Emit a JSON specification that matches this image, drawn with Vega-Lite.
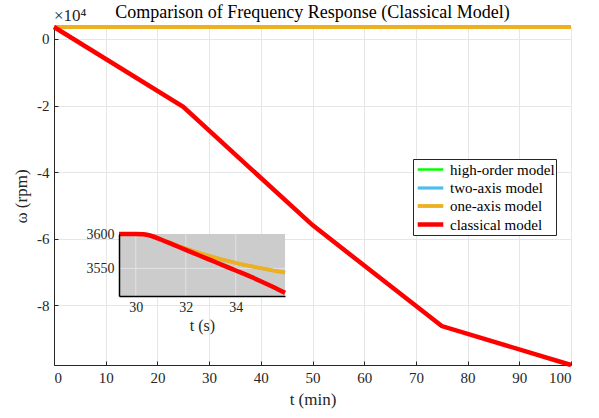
{
  "$schema": "https://vega.github.io/schema/vega-lite/v6.json",
  "width": 517,
  "height": 338,
  "autosize": {"type": "none"},
  "padding": {"left": 54, "top": 27, "right": 28, "bottom": 53},
  "background": "white",
  "title": {"text": "Comparison of Frequency Response (Classical Model)", "font": "Liberation Serif, serif", "fontSize": 18, "fontWeight": "normal", "color": "#000000", "baseline": "alphabetic", "offset": -29, "anchor": "middle"},
  "datasets": {
    "main": [
      {"t": 0, "w": 3600, "model": "high-order model"},
      {"t": 100, "w": 3590, "model": "high-order model"},
      {"t": 0, "w": 3600, "model": "two-axis model"},
      {"t": 100, "w": 3590, "model": "two-axis model"},
      {"t": 0, "w": 3600, "model": "one-axis model"},
      {"t": 100, "w": 3590, "model": "one-axis model"},
      {"t": 0, "w": 3600, "model": "classical model"},
      {"t": 25, "w": -20400, "model": "classical model"},
      {"t": 50, "w": -55900, "model": "classical model"},
      {"t": 75, "w": -86200, "model": "classical model"},
      {"t": 100, "w": -97900, "model": "classical model"}
    ],
    "inset": [
      {"s": 29.33, "w": 3600, "model": "high-order model"},
      {"s": 30, "w": 3600, "model": "high-order model"},
      {"s": 30.3, "w": 3599.5, "model": "high-order model"},
      {"s": 30.6, "w": 3597.5, "model": "high-order model"},
      {"s": 31, "w": 3592.5, "model": "high-order model"},
      {"s": 31.5, "w": 3585.5, "model": "high-order model"},
      {"s": 32, "w": 3579, "model": "high-order model"},
      {"s": 32.5, "w": 3573, "model": "high-order model"},
      {"s": 33, "w": 3567.5, "model": "high-order model"},
      {"s": 33.5, "w": 3562.5, "model": "high-order model"},
      {"s": 34, "w": 3558, "model": "high-order model"},
      {"s": 34.5, "w": 3554, "model": "high-order model"},
      {"s": 35, "w": 3550.5, "model": "high-order model"},
      {"s": 35.5, "w": 3547, "model": "high-order model"},
      {"s": 35.97, "w": 3544, "model": "high-order model"},
      {"s": 29.33, "w": 3600, "model": "two-axis model"},
      {"s": 30, "w": 3600, "model": "two-axis model"},
      {"s": 30.3, "w": 3599.5, "model": "two-axis model"},
      {"s": 30.6, "w": 3597.5, "model": "two-axis model"},
      {"s": 31, "w": 3592.5, "model": "two-axis model"},
      {"s": 31.5, "w": 3585.5, "model": "two-axis model"},
      {"s": 32, "w": 3579, "model": "two-axis model"},
      {"s": 32.5, "w": 3573, "model": "two-axis model"},
      {"s": 33, "w": 3567.5, "model": "two-axis model"},
      {"s": 33.5, "w": 3562.5, "model": "two-axis model"},
      {"s": 34, "w": 3558, "model": "two-axis model"},
      {"s": 34.5, "w": 3554, "model": "two-axis model"},
      {"s": 35, "w": 3550.5, "model": "two-axis model"},
      {"s": 35.5, "w": 3547, "model": "two-axis model"},
      {"s": 35.97, "w": 3544, "model": "two-axis model"},
      {"s": 29.33, "w": 3600, "model": "one-axis model"},
      {"s": 30, "w": 3600, "model": "one-axis model"},
      {"s": 30.3, "w": 3599.5, "model": "one-axis model"},
      {"s": 30.6, "w": 3597.5, "model": "one-axis model"},
      {"s": 31, "w": 3592.5, "model": "one-axis model"},
      {"s": 31.5, "w": 3585.5, "model": "one-axis model"},
      {"s": 32, "w": 3579, "model": "one-axis model"},
      {"s": 32.5, "w": 3573, "model": "one-axis model"},
      {"s": 33, "w": 3567.5, "model": "one-axis model"},
      {"s": 33.5, "w": 3562.5, "model": "one-axis model"},
      {"s": 34, "w": 3558, "model": "one-axis model"},
      {"s": 34.5, "w": 3554, "model": "one-axis model"},
      {"s": 35, "w": 3550.5, "model": "one-axis model"},
      {"s": 35.5, "w": 3547, "model": "one-axis model"},
      {"s": 35.97, "w": 3544, "model": "one-axis model"},
      {"s": 29.33, "w": 3600, "model": "classical model"},
      {"s": 30, "w": 3600, "model": "classical model"},
      {"s": 30.3, "w": 3599.5, "model": "classical model"},
      {"s": 30.6, "w": 3597.5, "model": "classical model"},
      {"s": 31, "w": 3592, "model": "classical model"},
      {"s": 31.5, "w": 3584.5, "model": "classical model"},
      {"s": 32, "w": 3577, "model": "classical model"},
      {"s": 32.5, "w": 3569.5, "model": "classical model"},
      {"s": 33, "w": 3562, "model": "classical model"},
      {"s": 33.5, "w": 3554.5, "model": "classical model"},
      {"s": 34, "w": 3547, "model": "classical model"},
      {"s": 34.5, "w": 3539.5, "model": "classical model"},
      {"s": 35, "w": 3531.5, "model": "classical model"},
      {"s": 35.5, "w": 3523, "model": "classical model"},
      {"s": 35.97, "w": 3514.5, "model": "classical model"}
    ],
    "grid": [{"g": 30}, {"g": 32}, {"g": 34}]
  },
  "config": {
    "view": {"stroke": null},
    "axis": {
      "labelFont": "Liberation Serif, serif", "titleFont": "Liberation Serif, serif",
      "labelColor": "#262626", "titleColor": "#262626", "titleFontWeight": "normal",
      "domainColor": "#262626", "tickColor": "#262626", "gridColor": "#e6e6e6",
      "labelFontSize": 15, "titleFontSize": 17, "domainWidth": 1, "tickWidth": 1
    }
  },
  "resolve": {"scale": {"x": "independent", "y": "independent"}},
  "layer": [
    {
      "layer": [
        {
          "data": {"name": "main"},
          "transform": [{"filter": "datum.model === 'high-order model'"}],
          "mark": {"type": "line"},
          "encoding": {
            "x": {"field": "t", "type": "quantitative",
              "scale": {"domain": [0, 100], "nice": false, "zero": false},
              "axis": {"values": [0, 10, 20, 30, 40, 50, 60, 70, 80, 90, 100], "title": "t (min)", "grid": true, "tickSize": -4, "labelPadding": 9, "titlePadding": 6}},
            "y": {"field": "w", "type": "quantitative",
              "scale": {"domain": [-97900, 3600], "nice": false, "zero": false},
              "axis": {"values": [-80000, -60000, -40000, -20000, 0], "labelExpr": "datum.value / 10000", "title": "ω (rpm)", "grid": true, "tickSize": -4, "labelPadding": 9, "titleX": -24}},
            "color": {"field": "model", "type": "nominal",
              "scale": {"domain": ["high-order model", "two-axis model", "one-axis model", "classical model"], "range": ["#00ff00", "#4dbeee", "#edb120", "#ff0000"]},
              "legend": {"title": null, "orient": "none", "legendX": 359, "legendY": 132, "fillColor": "white", "strokeColor": "#262626", "padding": 1, "symbolType": "M-1.6,0H1.6", "symbolSize": 256, "symbolOffset": 6, "labelFont": "Liberation Serif, serif", "labelFontSize": 15, "labelColor": "#000000", "labelOffset": 9, "rowPadding": 0}},
            "strokeWidth": {"field": "model", "type": "nominal",
              "scale": {"domain": ["high-order model", "two-axis model", "one-axis model", "classical model"], "range": [2.5, 4.5, 2.5, 2.5]},
              "legend": {"title": null, "orient": "none", "legendX": 359, "legendY": 132, "fillColor": "white", "strokeColor": "#262626", "padding": 1, "symbolType": "M-1.6,0H1.6", "symbolSize": 256, "symbolOffset": 6, "labelFont": "Liberation Serif, serif", "labelFontSize": 15, "labelColor": "#000000", "labelOffset": 9, "rowPadding": 0}}
          }
        },
        {
          "data": {"name": "main"},
          "transform": [{"filter": "datum.model === 'two-axis model'"}],
          "mark": {"type": "line"},
          "encoding": {
            "x": {"field": "t", "type": "quantitative"},
            "y": {"field": "w", "type": "quantitative"},
            "color": {"field": "model", "type": "nominal"},
            "strokeWidth": {"field": "model", "type": "nominal"}
          }
        },
        {
          "data": {"name": "main"},
          "transform": [{"filter": "datum.model === 'one-axis model'"}],
          "mark": {"type": "line"},
          "encoding": {
            "x": {"field": "t", "type": "quantitative"},
            "y": {"field": "w", "type": "quantitative"},
            "color": {"field": "model", "type": "nominal"},
            "strokeWidth": {"field": "model", "type": "nominal"}
          }
        },
        {
          "data": {"name": "main"},
          "transform": [{"filter": "datum.model === 'classical model'"}],
          "mark": {"type": "line"},
          "encoding": {
            "x": {"field": "t", "type": "quantitative"},
            "y": {"field": "w", "type": "quantitative"},
            "color": {"field": "model", "type": "nominal"},
            "strokeWidth": {"field": "model", "type": "nominal"}
          }
        },
        {
          "data": {"values": [{"label": "×10⁴"}]},
          "mark": {"type": "text", "align": "left", "baseline": "alphabetic", "dy": -6, "font": "Liberation Serif, serif", "fontSize": 17, "color": "#262626"},
          "encoding": {
            "x": {"datum": 0},
            "y": {"datum": 3600},
            "text": {"field": "label", "type": "nominal"}
          }
        }
      ]
    },
    {
      "layer": [
        {
          "data": {"values": [{"name": "inset"}]},
          "mark": {"type": "rect", "color": "#cccccc"},
          "encoding": {
            "x": {"datum": 29.33, "type": "quantitative",
              "scale": {"domain": [29.33, 35.97], "range": [65, 231], "nice": false, "zero": false},
              "axis": {"orient": "bottom", "offset": -69, "values": [30, 32, 34], "format": "d", "grid": false, "ticks": false, "domain": true, "domainColor": "#000000", "domainWidth": 1.5, "title": "t (s)", "labelFontSize": 14, "titleFontSize": 16, "labelPadding": 4, "titlePadding": 3, "zindex": 2}},
            "x2": {"datum": 35.97},
            "y": {"datum": 3510, "type": "quantitative",
              "scale": {"domain": [3510, 3600], "range": [269, 207], "nice": false, "zero": false},
              "axis": {"orient": "left", "offset": -65, "values": [3550, 3600], "format": "d", "grid": false, "ticks": false, "domain": true, "domainColor": "#000000", "domainWidth": 1.5, "title": null, "labelFontSize": 14, "labelPadding": 5, "zindex": 2}},
            "y2": {"datum": 3600}
          }
        },
        {
          "data": {"name": "grid"},
          "mark": {"type": "rule", "color": "#e2e2e2", "strokeWidth": 1},
          "encoding": {
            "x": {"field": "g", "type": "quantitative"},
            "y": {"datum": 3510},
            "y2": {"datum": 3600}
          }
        },
        {
          "data": {"values": [{"v": 3550}]},
          "mark": {"type": "rule", "color": "#e2e2e2", "strokeWidth": 1},
          "encoding": {
            "y": {"field": "v", "type": "quantitative"},
            "x": {"datum": 29.33},
            "x2": {"datum": 35.97}
          }
        },
        {
          "data": {"name": "inset"},
          "transform": [{"filter": "datum.model === 'high-order model'"}],
          "mark": {"type": "line", "interpolate": "monotone"},
          "encoding": {
            "x": {"field": "s", "type": "quantitative"},
            "y": {"field": "w", "type": "quantitative"},
            "color": {"field": "model", "type": "nominal"},
            "strokeWidth": {"field": "model", "type": "nominal"}
          }
        },
        {
          "data": {"name": "inset"},
          "transform": [{"filter": "datum.model === 'two-axis model'"}],
          "mark": {"type": "line", "interpolate": "monotone"},
          "encoding": {
            "x": {"field": "s", "type": "quantitative"},
            "y": {"field": "w", "type": "quantitative"},
            "color": {"field": "model", "type": "nominal"},
            "strokeWidth": {"field": "model", "type": "nominal"}
          }
        },
        {
          "data": {"name": "inset"},
          "transform": [{"filter": "datum.model === 'one-axis model'"}],
          "mark": {"type": "line", "interpolate": "monotone"},
          "encoding": {
            "x": {"field": "s", "type": "quantitative"},
            "y": {"field": "w", "type": "quantitative"},
            "color": {"field": "model", "type": "nominal"},
            "strokeWidth": {"field": "model", "type": "nominal"}
          }
        },
        {
          "data": {"name": "inset"},
          "transform": [{"filter": "datum.model === 'classical model'"}],
          "mark": {"type": "line", "interpolate": "monotone"},
          "encoding": {
            "x": {"field": "s", "type": "quantitative"},
            "y": {"field": "w", "type": "quantitative"},
            "color": {"field": "model", "type": "nominal"},
            "strokeWidth": {"field": "model", "type": "nominal"}
          }
        }
      ]
    }
  ]
}
